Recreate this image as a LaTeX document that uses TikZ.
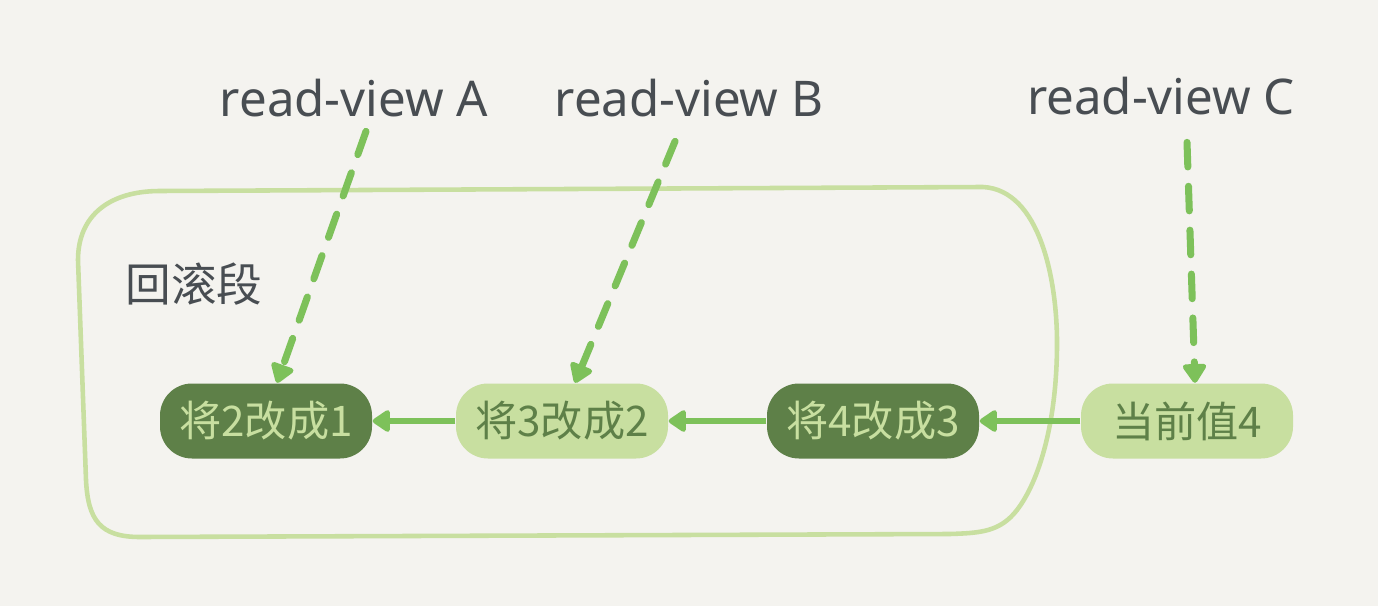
\documentclass[tikz,border=0pt]{standalone}
\usepackage{fontspec}
\setmainfont{Noto Sans}
\newfontfamily\cjk{Noto Sans CJK SC}
\usepackage{tikz}
\usetikzlibrary{arrows.meta,positioning,calc}
\usepackage{xcolor}
\definecolor{paper}{RGB}{244,243,239}
\definecolor{darkleaf}{RGB}{94,128,72}
\definecolor{paleleaf}{RGB}{200,223,160}
\definecolor{linkgreen}{RGB}{125,193,90}
\definecolor{ink}{RGB}{72,77,82}

\begin{document}
\begin{tikzpicture}[
    undo/.style={rounded corners=0.32cm, minimum width=2.12cm, minimum height=0.75cm,
        inner sep=0pt, font=\cjk\fontsize{12}{14}\selectfont},
    olddark/.style={undo, fill=darkleaf, text=paleleaf},
    oldpale/.style={undo, fill=paleleaf, text=darkleaf},
    viewname/.style={text=ink, font=\fontsize{14}{16}\selectfont},
    chain/.style={-{Triangle[width=7pt,length=5.5pt,round]}, linkgreen, line width=1.7pt},
    viewlink/.style={-{Triangle[width=7.5pt,length=6pt,round]}, linkgreen, line width=2pt,
        line cap=round, dash pattern=on 7pt off 5.5pt}
]
    % Paper
    \fill[paper] (0,0) rectangle (13.78,6.06);
    \useasboundingbox (0,0) rectangle (13.78,6.06);

    % Undo segment outline
    \draw[paleleaf, line width=1.3pt]
        (1.60,4.15) -- (9.83,4.19)
        .. controls (10.40,4.16) and (10.57,3.26) .. (10.57,2.63)
        .. controls (10.57,1.86) and (10.40,1.26) .. (10.17,0.96)
        .. controls (10.00,0.74) and (9.80,0.73) .. (9.50,0.72)
        -- (1.40,0.69)
        .. controls (1.00,0.69) and (0.88,0.86) .. (0.86,1.26)
        -- (0.78,3.46)
        .. controls (0.78,3.91) and (1.10,4.15) .. (1.60,4.15);
    \node[text=ink, font=\cjk\fontsize{13}{15}\selectfont] (seg) at (1.94,3.22) {回滚段};

    % Versions
    \node[olddark] (v1) at (2.66,1.85) {将2改成1};
    \node[oldpale] (v2) at (5.62,1.85) {将3改成2};
    \node[olddark] (v3) at (8.73,1.85) {将4改成3};
    \node[oldpale] (v4) at (11.87,1.85) {当前值4};

    % Undo chain
    \draw[chain] (v2.west) -- (v1.east);
    \draw[chain] (v3.west) -- (v2.east);
    \draw[chain] (v4.west) -- (v3.east);

    % Read views
    \node[viewname] (rvA) at (3.54,5.08) {read-view A};
    \node[viewname] (rvB) at (6.89,5.08) {read-view B};
    \node[viewname] (rvC) at (11.61,5.10) {read-view C};

    \draw[viewlink] ($(rvA.south)+(0.12,-0.02)$) -- ($(v1.north)+(0.11,0)$);
    \draw[viewlink] ($(rvB.south)+(-0.14,-0.12)$) -- ($(v2.north)+(0.13,0)$);
    \draw[viewlink] ($(rvC.south)+(0.26,-0.15)$) -- ($(v4.north)+(0.08,0)$);
\end{tikzpicture}
\end{document}
